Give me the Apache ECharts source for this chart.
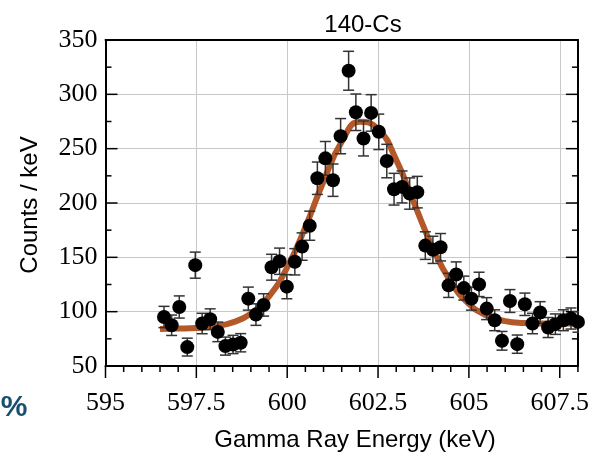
<!DOCTYPE html>
<html>
<head>
<meta charset="utf-8">
<script src="https://cdn.jsdelivr.net/npm/echarts@6/dist/echarts.min.js"></script>
<style>
html,body{margin:0;padding:0;background:#fff;}
#chart{width:592px;height:456px;}
</style>
</head>
<body>
<div id="chart"></div>
<script>
// Measured data points (keV, counts/keV) and their error bars
var energies = [596.61,596.82,597.03,597.25,597.47,597.66,597.88,598.09,598.30,598.51,
                598.72,598.93,599.14,599.35,599.57,599.79,599.99,600.21,600.41,600.62,
                600.83,601.05,601.26,601.47,601.69,601.89,602.10,602.31,602.52,602.74,
                602.94,603.16,603.37,603.58,603.80,604.01,604.22,604.44,604.65,604.86,
                605.07,605.28,605.49,605.71,605.91,606.13,606.33,606.54,606.75,606.96,
                607.18,607.38,607.60,607.81,608.00];
var counts = [95.1,87.5,104.3,67.4,142.8,89.1,93.0,81.4,68.3,69.8,
              71.4,112.0,97.3,106.2,140.9,146.4,123.0,145.9,159.9,179.1,
              222.8,241.1,221.0,261.5,321.7,283.5,259.4,282.9,265.5,238.6,
              212.7,214.8,208.7,210.0,160.8,156.9,159.3,124.2,134.2,121.7,
              112.0,125.1,102.8,92.1,73.2,109.8,70.1,106.8,89.1,99.2,
              85.4,88.5,92.1,93.7,90.6];
var errors = [9.8,9.4,10.2,8.2,12.0,9.4,9.6,9.0,8.3,8.4,
              8.4,10.6,9.9,10.3,11.9,12.1,11.1,12.1,12.6,13.4,
              14.9,15.5,14.9,16.2,17.9,16.8,16.1,16.8,16.3,15.4,
              14.6,14.7,14.4,14.5,12.7,12.5,12.6,11.1,11.6,11.0,
              10.6,11.2,10.1,9.6,8.6,10.5,8.4,10.3,9.4,10.0,
              9.2,9.4,9.6,9.7,9.5];
// Fit curve
var fitEnergy = [596.5,597.0,597.5,598.0,598.5,599.0,599.5,600.0,600.5,601.0,
                 601.5,602.0,602.5,603.0,603.5,604.0,604.5,605.0,605.5,606.0,
                 606.5,607.0,607.5,608.0];
var fitCounts = [84.0,84.4,85.0,86.5,90.1,98.2,114.1,140.7,177.8,220.0,
                 256.4,274.7,268.3,239.7,199.2,159.1,127.6,107.2,96.3,91.3,
                 89.5,89.0,89.0,89.2];

var titleText = '140-Cs';
var xName = 'Gamma Ray Energy (keV)';
var yName = 'Counts / keV';

// axis settings
var xMin = 595, xMax = 608, xStep = 2.5, xMinorStep = 0.5;
var yMin = 50, yMax = 350, yStep = 50, yMinorStep = 25;

var pts = energies.map(function(e,i){return [e, counts[i], errors[i]];});
var fit = fitEnergy.map(function(e,i){return [e, fitCounts[i]];});

// tick marks, placed through the axes' own scales
var tickItems = [];
(function(){
  var i, v;
  for (i = 0; ; i++) { v = +(xMin + i*xMinorStep).toFixed(3); if (v > xMax + 1e-9) break;
    var major = Math.abs((v - xMin)/xStep - Math.round((v - xMin)/xStep)) < 1e-6;
    tickItems.push([v, yMin, major ? 0 : 1]); }
  for (i = 0; ; i++) { v = yMin + i*yMinorStep; if (v > yMax + 1e-9) break;
    var ymaj = (v - yMin) % yStep === 0;
    tickItems.push([xMin, v, ymaj ? 2 : 3]);
    tickItems.push([xMax, v, ymaj ? 4 : 5]); }
})();

var chart = echarts.init(document.getElementById('chart'), null, {renderer:'canvas'});
var serif = "'Liberation Serif','Times New Roman',serif";
var sans = "'Liberation Sans',Arial,sans-serif";
var gridStyle = {color:'#c8c8c8', width:1};

var option = {
  animation:false,
  backgroundColor:'#ffffff',
  title:{text:titleText, left:358, top:8, textAlign:'center',
    textStyle:{fontFamily:sans, fontSize:24, fontWeight:'normal', color:'#000'}},
  grid:{left:105.5, right:12.5, top:40, bottom:90, containLabel:false},
  xAxis:[{
    type:'value', min:xMin, max:xMax, interval:xStep, position:'bottom',
    axisLine:{show:true, onZero:false, lineStyle:{color:'#000', width:2}},
    axisTick:{show:false}, minorTick:{show:false},
    splitLine:{show:true, lineStyle:gridStyle},
    axisLabel:{margin:24, fontFamily:serif, fontSize:26, color:'#000'}
  },{
    type:'value', min:xMin, max:xMax, interval:xStep, position:'top',
    axisLine:{show:true, onZero:false, lineStyle:{color:'#000', width:2}},
    axisTick:{show:false}, axisLabel:{show:false}, splitLine:{show:false}
  }],
  yAxis:[{
    type:'value', min:yMin, max:yMax, interval:yStep, position:'left',
    axisLine:{show:true, onZero:false, lineStyle:{color:'#000', width:2}},
    axisTick:{show:false}, minorTick:{show:false},
    splitLine:{show:true, lineStyle:gridStyle},
    axisLabel:{margin:8, fontFamily:serif, fontSize:26, color:'#000'}
  },{
    type:'value', min:yMin, max:yMax, interval:yStep, position:'right',
    axisLine:{show:true, onZero:false, lineStyle:{color:'#000', width:2}},
    axisTick:{show:false}, minorTick:{show:false},
    splitLine:{show:false}, axisLabel:{show:false}
  }],
  graphic:[
    {type:'text', x:30, y:205, rotation:Math.PI/2,
      style:{text:yName, fontFamily:sans, fontSize:24, fill:'#000', align:'center', verticalAlign:'middle'}},
    {type:'text', x:355, y:440,
      style:{text:xName, fontFamily:sans, fontSize:24, fill:'#000', align:'center', verticalAlign:'middle'}},
    {type:'text', x:14, y:408,
      style:{text:'%', fontFamily:sans, fontSize:30, fontWeight:'bold', fill:'#17506e', align:'center', verticalAlign:'middle'}}
  ],
  series:[
    {type:'custom', data:tickItems, z:1, clip:false, silent:true,
      renderItem:function(params, api){
        var p = api.coord([api.value(0), api.value(1)]);
        var k = api.value(2);
        var major = (k % 2 === 0);
        var len = major ? 12 : 6;
        var s = {x1:p[0], y1:p[1], x2:p[0], y2:p[1]};
        if (k < 2) { s.y2 = p[1] + len; }          // bottom, outward
        else if (k < 4) { s.x2 = p[0] + len; }     // left, inward
        else { s.x2 = p[0] - len; }                // right, inward
        return {type:'line', shape:s, style:{stroke:'#000', lineWidth:1.5}};
      },
      encode:{x:0, y:1}
    },
    {type:'line', data:fit, smooth:true, showSymbol:false, symbol:'none',
      lineStyle:{color:'#b4582a', width:6}, z:2, clip:true},
    {type:'custom', data:pts, z:3, clip:true,
      renderItem:function(params, api){
        var x = api.value(0), y = api.value(1), e = api.value(2);
        var top = api.coord([x, y+e]);
        var bot = api.coord([x, y-e]);
        var hw = 5.5;
        var st = {stroke:'#333', lineWidth:1.5};
        return {type:'group', children:[
          {type:'line', shape:{x1:top[0], y1:top[1], x2:bot[0], y2:bot[1]}, style:st},
          {type:'line', shape:{x1:top[0]-hw, y1:top[1], x2:top[0]+hw, y2:top[1]}, style:st},
          {type:'line', shape:{x1:bot[0]-hw, y1:bot[1], x2:bot[0]+hw, y2:bot[1]}, style:st}
        ]};
      },
      encode:{x:0, y:1}
    },
    {type:'scatter', data:pts.map(function(p){return [p[0],p[1]];}), symbol:'circle', symbolSize:14,
      itemStyle:{color:'#000', opacity:1}, z:4, clip:true}
  ]
};
chart.setOption(option);
</script>
</body>
</html>
